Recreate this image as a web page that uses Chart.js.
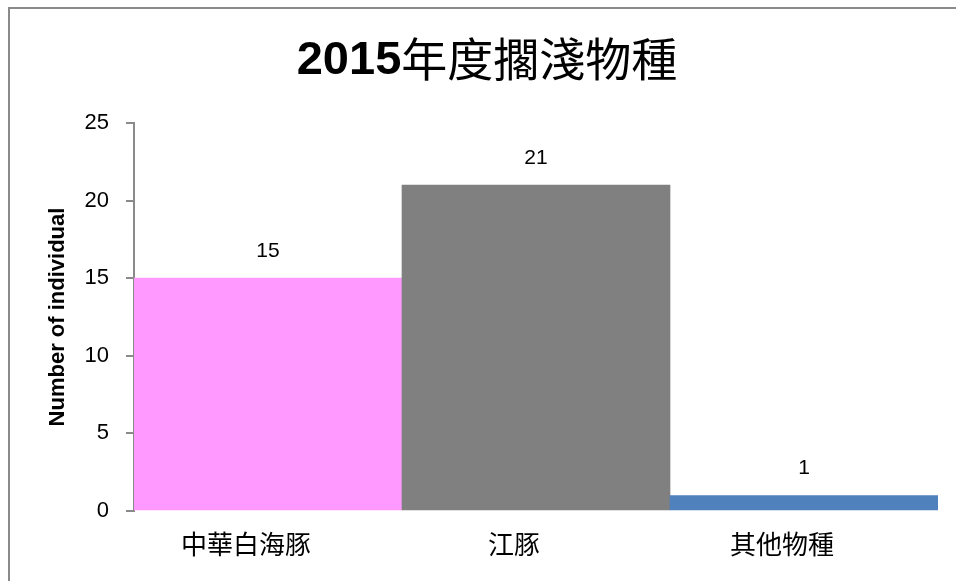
<!DOCTYPE html>
<html>
<head>
<meta charset="utf-8">
<script src="https://cdn.jsdelivr.net/npm/chart.js@4/dist/chart.umd.min.js"></script>
<style>
  html, body { margin: 0; padding: 0; background: #fff; }
  canvas { display: block; }
</style>
</head>
<body>
<canvas id="chart" width="956" height="581"></canvas>
<script>
const TITLE_NUM = '2015';
const TITLE_TEXT = '年度擱淺物種';
const categories = ['中華白海豚', '江豚', '其他物種'];
const counts = [15, 21, 1];
const barColors = ['#FF99FF', '#808080', '#4F81BD'];
const yTicks = [0, 5, 10, 15, 20, 25];

const LATIN = '"Liberation Sans", Arial, sans-serif';
const CJK = '"Noto Sans CJK TC", "Noto Sans CJK SC", sans-serif';
const AXIS_GRAY = '#8a8a8a';

// frame + mixed-weight title
const framePlugin = {
  id: 'frame',
  afterDraw(chart) {
    const ctx = chart.ctx;
    ctx.save();
    ctx.strokeStyle = AXIS_GRAY;
    ctx.lineWidth = 2;
    ctx.beginPath();
    ctx.moveTo(9, chart.height);
    ctx.lineTo(9, 8);
    ctx.lineTo(chart.width, 8);
    ctx.stroke();

    const boldFont = 'bold 47px ' + LATIN;
    const normFont = '46px ' + CJK;
    ctx.font = boldFont;
    const w1 = ctx.measureText(TITLE_NUM).width;
    ctx.font = normFont;
    const w2 = ctx.measureText(TITLE_TEXT).width;
    let x = chart.width / 2 + 9 - (w1 + w2) / 2;
    const y = 59;
    ctx.fillStyle = '#000';
    ctx.textBaseline = 'middle';
    ctx.textAlign = 'left';
    ctx.font = boldFont;
    ctx.fillText(TITLE_NUM, x, y + 2);
    ctx.font = normFont;
    ctx.fillText(TITLE_TEXT, x + w1, y);
    ctx.restore();
  }
};

// value labels above bars
const valuePlugin = {
  id: 'values',
  afterDatasetsDraw(chart) {
    const ctx = chart.ctx;
    const meta = chart.getDatasetMeta(0);
    ctx.save();
    ctx.font = '21px ' + LATIN;
    ctx.fillStyle = '#000';
    ctx.textAlign = 'center';
    ctx.textBaseline = 'middle';
    meta.data.forEach((bar, i) => {
      ctx.fillText(String(counts[i]), bar.x, bar.y - 27);
    });
    ctx.restore();
  }
};

new Chart(document.getElementById('chart'), {
  type: 'bar',
  data: {
    labels: categories,
    datasets: [{
      data: counts,
      backgroundColor: barColors,
      borderWidth: 0,
      barPercentage: 1,
      categoryPercentage: 1,
    }],
  },
  options: {
    responsive: false,
    animation: false,
    devicePixelRatio: 1,
    layout: { padding: { top: 123, right: 18, left: 0, bottom: 0 } },
    plugins: {
      legend: { display: false },
      title: { display: false },
      tooltip: { enabled: false },
    },
    scales: {
      x: {
        grid: { display: false, drawTicks: false },
        border: { display: false },
        ticks: {
          color: '#000',
          padding: 18,
          labelOffset: -22,
          font: { family: CJK, size: 26 },
        },
        afterFit(scale) { scale.height = 70; },
      },
      y: {
        min: 0,
        max: 25,
        afterBuildTicks(scale) { scale.ticks = yTicks.map(v => ({ value: v })); },
        grid: {
          drawOnChartArea: false,
          drawTicks: true,
          tickLength: 8,
          color: AXIS_GRAY,
          lineWidth: 2,
        },
        border: { display: true, color: AXIS_GRAY, width: 2 },
        ticks: {
          color: '#000',
          padding: 17,
          font: { family: LATIN, size: 22 },
        },
        title: {
          display: true,
          text: 'Number of individual',
          color: '#000',
          font: { family: LATIN, size: 22, weight: 'bold' },
          padding: { top: 45, bottom: 0 },
        },
        afterFit(scale) { scale.width = 134; },
      },
    },
  },
  plugins: [framePlugin, valuePlugin],
});
</script>
</body>
</html>
